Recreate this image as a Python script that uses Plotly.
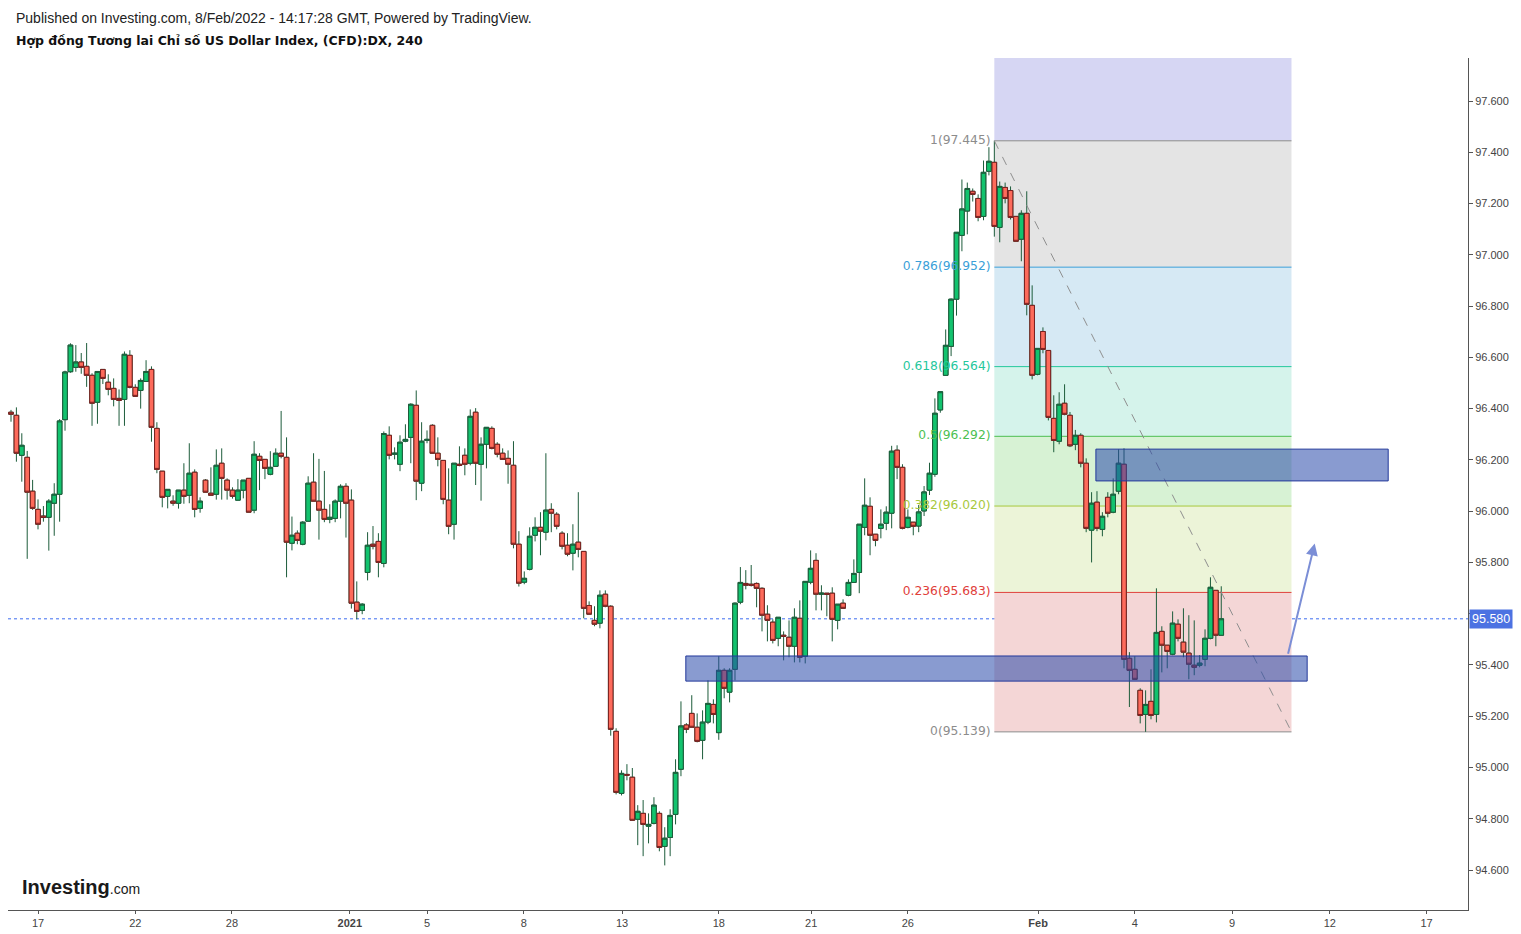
import plotly.graph_objects as go

# ---------------- data (4h candles) ----------------
opens = [96.386,96.374,96.218,96.210,96.078,96.007,95.981,95.976,96.031,96.066,
 96.357,96.544,96.561,96.582,96.565,96.530,96.425,96.553,96.503,96.479,
 96.440,96.436,96.608,96.483,96.471,96.506,96.553,96.323,96.156,96.058,
 96.039,96.031,96.082,96.062,96.152,96.011,96.121,96.070,96.066,96.187,
 96.121,96.082,96.043,96.082,96.128,96.004,96.214,96.202,96.144,96.175,
 96.226,96.210,95.875,95.914,95.871,95.961,96.113,96.039,96.007,95.968,
 95.972,96.039,96.097,96.043,95.645,95.613,95.761,95.871,95.882,95.796,
 96.296,96.222,96.183,96.273,96.288,96.413,96.109,96.276,96.335,96.226,
 96.198,96.043,95.949,96.183,96.218,96.187,96.386,96.183,96.261,96.323,
 96.261,96.226,96.206,96.179,95.871,95.723,95.773,95.906,95.937,95.918,
 96.007,95.988,95.914,95.867,95.836,95.879,95.843,95.632,95.574,95.563,
 95.676,95.629,95.141,94.899,94.973,94.962,94.798,94.821,94.771,94.782,
 94.821,94.692,94.727,94.817,94.993,95.166,95.211,95.157,95.106,95.177,
 95.246,95.136,95.379,95.294,95.383,95.645,95.718,95.715,95.718,95.699,
 95.598,95.567,95.504,95.516,95.508,95.473,95.582,95.434,95.723,95.808,
 95.676,95.680,95.680,95.574,95.641,95.672,95.722,95.761,95.937,96.019,
 95.910,95.933,95.953,95.992,96.238,96.171,95.937,95.957,95.942,96.001,
 96.082,96.144,96.395,96.530,96.643,96.827,97.076,97.171,97.248,97.220,
 97.150,97.326,97.361,97.107,97.263,97.251,97.150,97.061,97.162,96.803,
 96.534,96.701,96.627,96.362,96.273,96.421,96.374,96.261,96.296,96.187,
 95.926,96.035,95.929,96.054,95.996,96.078,96.183,95.426,95.383,95.301,
 95.207,95.258,95.207,95.531,95.477,95.442,95.559,95.489,95.446,95.399,
 95.399,95.422,95.504,95.691,95.516]
highs = [96.395,96.405,96.304,96.235,96.122,96.046,96.020,96.047,96.109,96.359,
 96.548,96.655,96.648,96.617,96.656,96.538,96.545,96.553,96.534,96.518,
 96.475,96.623,96.628,96.495,96.518,96.589,96.565,96.347,96.156,96.085,
 96.062,96.082,96.187,96.265,96.163,96.054,96.125,96.171,96.241,96.245,
 96.128,96.093,96.125,96.121,96.128,96.273,96.226,96.202,96.234,96.245,
 96.391,96.288,95.979,95.925,95.961,96.136,96.226,96.204,96.157,96.027,
 96.046,96.105,96.109,96.085,95.726,95.641,95.918,95.942,95.914,96.311,
 96.331,96.249,96.296,96.339,96.421,96.471,96.347,96.315,96.339,96.288,
 96.198,96.167,96.187,96.253,96.245,96.397,96.402,96.288,96.327,96.331,
 96.269,96.245,96.237,96.273,95.922,95.765,95.937,95.976,95.996,96.226,
 96.031,95.996,95.922,95.914,95.949,96.074,95.843,95.648,95.629,95.691,
 95.691,95.633,95.153,94.989,95.013,94.998,94.853,94.873,94.821,94.884,
 94.829,94.767,94.837,95.032,95.258,95.173,95.282,95.211,95.223,95.340,
 95.266,95.434,95.387,95.387,95.644,95.782,95.770,95.790,95.722,95.703,
 95.633,95.578,95.586,95.531,95.574,95.621,95.652,95.726,95.847,95.836,
 95.711,95.680,95.703,95.637,95.656,95.734,95.812,95.949,96.128,96.054,
 95.910,96.007,96.019,96.255,96.257,96.183,96.007,95.957,96.024,96.098,
 96.189,96.440,96.466,96.709,96.830,97.088,97.294,97.282,97.259,97.236,
 97.368,97.420,97.445,97.286,97.282,97.267,97.150,97.174,97.248,96.881,
 96.635,96.717,96.627,96.452,96.464,96.495,96.387,96.317,96.304,96.206,
 96.074,96.078,95.996,96.074,96.128,96.241,96.245,95.450,95.434,95.309,
 95.301,95.383,95.699,95.551,95.477,95.609,95.578,95.621,95.594,95.574,
 95.438,95.539,95.742,95.691,95.707]
lows = [96.349,96.193,96.115,95.814,96.005,95.929,95.959,95.846,95.904,95.959,
 96.314,96.540,96.544,96.536,96.485,96.333,96.341,96.496,96.452,96.409,
 96.333,96.333,96.479,96.448,96.400,96.506,96.271,96.148,96.015,96.011,
 96.021,96.010,96.029,96.031,95.976,95.994,96.074,96.062,96.045,96.045,
 96.045,96.049,96.043,96.050,95.996,95.992,96.082,96.125,96.140,96.175,
 96.206,95.742,95.847,95.871,95.867,95.961,96.039,95.889,95.957,95.953,
 95.957,95.972,95.897,95.620,95.578,95.598,95.730,95.851,95.742,95.781,
 96.202,96.202,96.156,96.269,96.187,96.043,96.078,96.265,96.226,96.175,
 96.027,95.910,95.889,96.175,96.140,96.179,96.102,96.041,96.167,96.241,
 96.210,96.202,96.107,95.855,95.706,95.715,95.769,95.882,95.828,95.886,
 95.918,95.929,95.851,95.824,95.769,95.820,95.582,95.598,95.551,95.543,
 95.625,95.124,94.895,94.891,94.950,94.794,94.697,94.654,94.704,94.778,
 94.673,94.618,94.654,94.778,94.966,95.134,95.157,95.098,95.032,95.169,
 95.172,95.108,95.270,95.254,95.340,95.637,95.695,95.706,95.625,95.531,
 95.492,95.484,95.473,95.418,95.430,95.410,95.410,95.406,95.715,95.613,
 95.613,95.590,95.492,95.539,95.621,95.668,95.722,95.680,95.906,95.828,
 95.863,95.894,95.926,95.933,96.125,95.929,95.933,95.906,95.918,95.981,
 96.063,96.134,96.384,96.530,96.605,96.763,97.014,97.080,97.208,97.131,
 97.135,97.310,97.071,97.049,97.201,97.138,97.053,96.975,96.764,96.514,
 96.530,96.616,96.354,96.230,96.261,96.374,96.250,96.238,96.171,95.918,
 95.800,95.922,95.902,95.976,95.992,96.066,95.387,95.236,95.344,95.172,
 95.139,95.188,95.176,95.371,95.387,95.438,95.492,95.430,95.344,95.360,
 95.391,95.395,95.500,95.473,95.516]
closes = [96.378,96.226,96.257,96.074,96.011,95.949,95.976,96.039,96.066,96.352,
 96.543,96.648,96.582,96.561,96.530,96.421,96.545,96.518,96.475,96.436,
 96.432,96.612,96.483,96.448,96.510,96.545,96.327,96.163,96.054,96.085,
 96.031,96.082,96.058,96.148,96.007,96.039,96.074,96.062,96.179,96.128,
 96.082,96.058,96.082,96.121,95.996,96.222,96.198,96.167,96.171,96.226,
 96.214,95.879,95.906,95.886,95.957,96.109,96.039,96.004,95.968,95.976,
 96.039,96.097,96.031,95.641,95.609,95.637,95.867,95.863,95.800,96.303,
 96.218,96.226,96.269,96.280,96.417,96.117,96.273,96.280,96.226,96.202,
 96.046,95.941,96.187,96.179,96.183,96.370,96.187,96.261,96.327,96.245,
 96.222,96.202,96.183,95.871,95.719,95.738,95.902,95.937,95.922,96.004,
 95.992,95.941,95.863,95.832,95.871,95.851,95.621,95.598,95.559,95.672,
 95.629,95.149,94.903,94.977,94.970,94.794,94.829,94.778,94.778,94.853,
 94.688,94.724,94.813,94.981,95.162,95.149,95.157,95.102,95.177,95.250,
 95.207,95.379,95.309,95.379,95.641,95.722,95.711,95.711,95.699,95.594,
 95.574,95.496,95.586,95.512,95.473,95.586,95.430,95.726,95.777,95.676,
 95.680,95.676,95.578,95.637,95.621,95.722,95.757,95.949,96.023,95.906,
 95.886,95.949,95.996,96.234,96.171,95.933,95.976,95.941,95.997,96.075,
 96.148,96.382,96.466,96.647,96.827,97.088,97.179,97.259,97.236,97.146,
 97.322,97.365,97.111,97.267,97.220,97.146,97.053,97.162,96.807,96.530,
 96.635,96.631,96.366,96.276,96.417,96.378,96.255,96.296,96.187,95.933,
 96.031,95.933,95.980,95.992,96.066,96.187,95.422,95.379,95.344,95.203,
 95.246,95.203,95.527,95.477,95.453,95.563,95.504,95.450,95.403,95.391,
 95.407,95.504,95.703,95.516,95.580]

x_tick_pos = [5, 23, 40.9, 62.7, 77, 94.9, 113.1, 131, 148.1, 166, 190.1, 208, 226, 244.1, 262]
x_tick_text = ["17", "22", "28", "<b>2021</b>", "5", "8", "13", "18", "21", "26",
               "<b>Feb</b>", "4", "9", "12", "17"]
y_tick_vals = [94.6, 94.8, 95.0, 95.2, 95.4, 95.6, 95.8, 96.0, 96.2, 96.4, 96.6, 96.8, 97.0, 97.2, 97.4, 97.6]

fib_levels = ["1", "0.786", "0.618", "0.5", "0.382", "0.236", "0"]
fib_prices = [97.445, 96.952, 96.564, 96.292, 96.020, 95.683, 95.139]
fib_line_colors = ["#8c8c8c", "#3a9fd8", "#25c79c", "#4cbf52", "#a7c83c", "#e0403a", "#8c8c8c"]
fib_zone_colors = ["#e4e4e4", "#d6e9f4", "#d5f3eb", "#d7f2d4", "#ecf4d8", "#f4d6d6"]
fib_top_zone_color = "#d6d6f3"
fib_start, fib_end = 182, 237

last_price = 95.580
zones = [  # (x0, x1, y_low, y_high)
    (124.9, 239.9, 95.337, 95.435),
    (200.8, 254.9, 96.118, 96.242),
]
arrow_from = (236.3, 95.438)
arrow_to = (241.3, 95.874)

# ---------------- figure ----------------
idx = list(range(len(opens)))
body_top = [max(o, c) for o, c in zip(opens, closes)]
body_bot = [min(o, c) for o, c in zip(opens, closes)]
Y0, Y1 = 94.444, 97.768
X0, X1 = -0.555, 269.67
WICK = "#1d5c3b"

fig = go.Figure()

# fib labels (below candles)
fig.add_trace(go.Scatter(
    x=[fib_start - 0.7] * len(fib_prices), y=fib_prices, mode="text",
    text=[f"{l}({p:.3f})" for l, p in zip(fib_levels, fib_prices)],
    textposition="middle left",
    textfont=dict(family="DejaVu Sans", size=12.3, color=fib_line_colors),
    hoverinfo="skip", showlegend=False))

# wicks (dark green for every candle)
fig.add_trace(go.Candlestick(
    x=idx, open=opens, high=highs, low=lows, close=closes,
    increasing=dict(line=dict(color=WICK, width=1), fillcolor=WICK),
    decreasing=dict(line=dict(color=WICK, width=1), fillcolor=WICK),
    whiskerwidth=0, showlegend=False, hoverinfo="skip"))
# bodies
fig.add_trace(go.Candlestick(
    x=idx, open=opens, high=body_top, low=body_bot, close=closes,
    increasing=dict(line=dict(color="#1d5c3b", width=1), fillcolor="#12c36e"),
    decreasing=dict(line=dict(color="#7a1f1f", width=1), fillcolor="#fd6b5b"),
    whiskerwidth=0, showlegend=False, hoverinfo="skip"))

shapes = []
# fib zones
shapes.append(dict(type="rect", xref="x", yref="y", x0=fib_start, x1=fib_end,
                   y0=fib_prices[0], y1=Y1 + 0.1, fillcolor=fib_top_zone_color,
                   line=dict(width=0), layer="below"))
for i in range(len(fib_zone_colors)):
    shapes.append(dict(type="rect", xref="x", yref="y", x0=fib_start, x1=fib_end,
                       y0=fib_prices[i + 1], y1=fib_prices[i],
                       fillcolor=fib_zone_colors[i], line=dict(width=0), layer="below"))
for p, c in zip(fib_prices, fib_line_colors):
    shapes.append(dict(type="line", xref="x", yref="y", x0=fib_start, x1=fib_end,
                       y0=p, y1=p, line=dict(color=c, width=1), layer="below"))
# trend line
shapes.append(dict(type="line", xref="x", yref="y", x0=fib_start, x1=fib_end,
                   y0=fib_prices[0], y1=fib_prices[-1],
                   line=dict(color="#8f8f8f", width=1, dash="dash"), layer="above"))
# current price dotted line
shapes.append(dict(type="line", xref="paper", yref="y", x0=0, x1=1,
                   y0=last_price, y1=last_price,
                   line=dict(color="#3d6cf0", width=1, dash="dot"), layer="below"))
# supply/demand zones
for x0, x1, ylo, yhi in zones:
    shapes.append(dict(type="rect", xref="x", yref="y", x0=x0, x1=x1, y0=ylo, y1=yhi,
                       fillcolor="rgba(40,72,170,0.55)",
                       line=dict(color="#22389a", width=1), layer="above"))

annotations = [
    dict(x=arrow_to[0], y=arrow_to[1], ax=arrow_from[0], ay=arrow_from[1],
         xref="x", yref="y", axref="x", ayref="y", text="", showarrow=True,
         arrowhead=2, arrowsize=1.2, arrowwidth=2, arrowcolor="#7b8ed6"),
    dict(xref="paper", yref="y", x=1.0, y=last_price, xanchor="left", yanchor="middle",
         xshift=1, text="95.580", showarrow=False, bgcolor="#4c72e2", borderpad=2,
         font=dict(family="Liberation Sans", size=12.5, color="white")),
    dict(xref="paper", yref="paper", x=8 / 1460, y=1, xanchor="left", yanchor="bottom",
         xshift=-2, yshift=30,
         text="Published on Investing.com, 8/Feb/2022 - 14:17:28 GMT, Powered by TradingView.",
         showarrow=False, font=dict(family="Liberation Sans", size=14, color="#222")),
    dict(xref="paper", yref="paper", x=8 / 1460, y=1, xanchor="left", yanchor="bottom",
         xshift=-2, yshift=8,
         text="<b>Hợp đồng Tương lai Chỉ số US Dollar Index, (CFD):DX, 240</b>",
         showarrow=False, font=dict(family="DejaVu Sans", size=12.5, color="#111")),
    dict(xref="paper", yref="paper", x=14 / 1460, y=0, xanchor="left", yanchor="bottom",
         xshift=-2, yshift=10,
         text="<b>Investing</b><span style='font-size:14px'>.com</span>",
         showarrow=False, font=dict(family="Liberation Sans", size=20, color="#1a1a1a")),
]

fig.update_layout(
    width=1521, height=934,
    margin=dict(l=8, r=53, t=58, b=24),
    paper_bgcolor="white", plot_bgcolor="white",
    shapes=shapes, annotations=annotations, showlegend=False,
    hovermode=False, boxgap=0.1, boxgroupgap=0.05, boxmode="overlay",
    xaxis=dict(range=[X0, X1], rangeslider=dict(visible=False), showgrid=False,
               zeroline=False, tickmode="array", tickvals=x_tick_pos, ticktext=x_tick_text,
               ticks="outside", ticklen=3, tickcolor="#555", showline=True,
               linecolor="#555", linewidth=1, automargin=False,
               tickfont=dict(family="Liberation Sans", size=11, color="#444")),
    yaxis=dict(range=[Y0, Y1], side="right", showgrid=False, zeroline=False,
               tickmode="array", tickvals=y_tick_vals,
               ticktext=[f"{v:.3f}" for v in y_tick_vals],
               ticks="outside", ticklen=4, tickcolor="#555", showline=True,
               linecolor="#555", linewidth=1, automargin=False,
               tickfont=dict(family="Liberation Sans", size=11, color="#444")),
)

fig.write_html("out.html")
